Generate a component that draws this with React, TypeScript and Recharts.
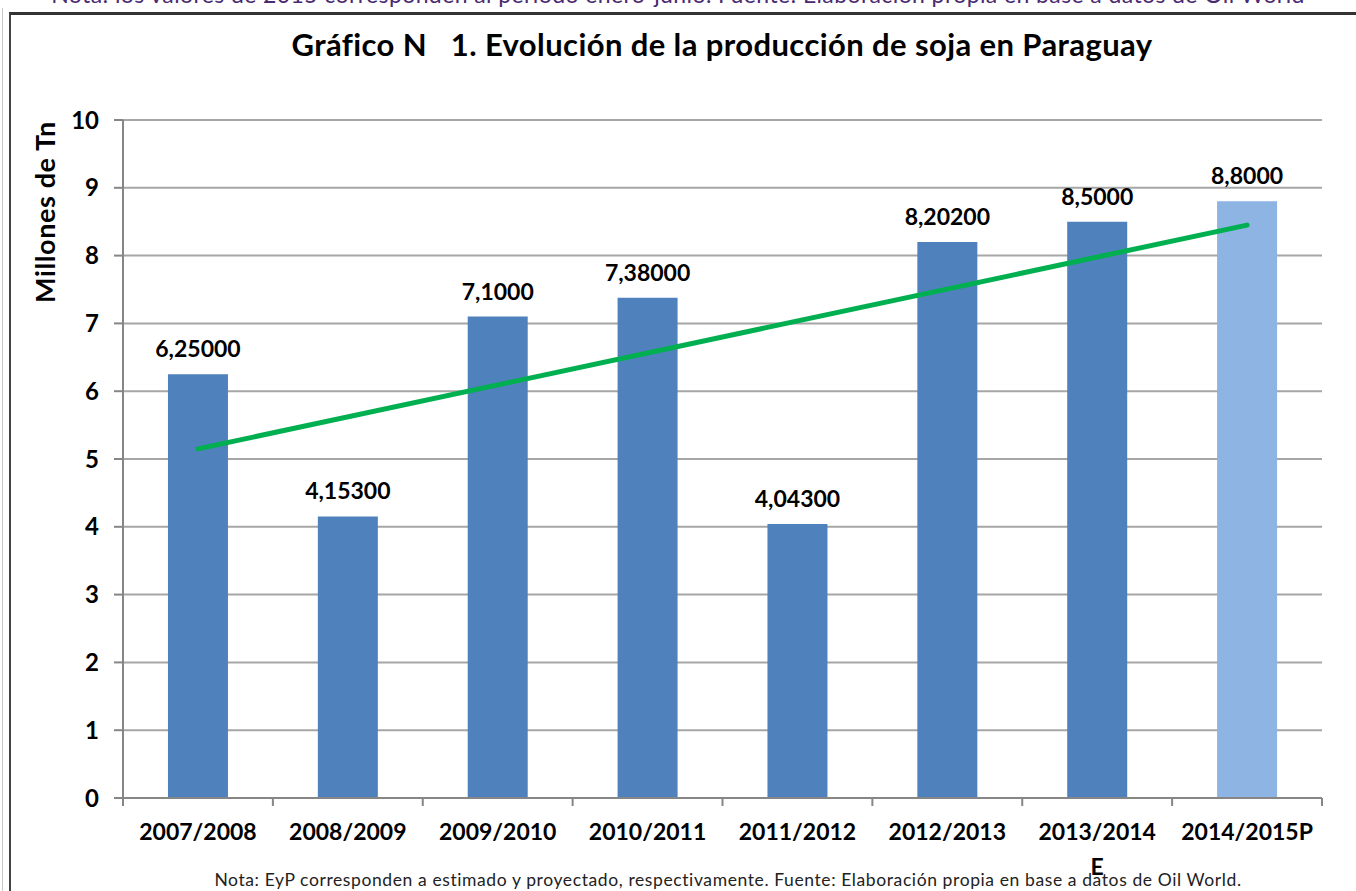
import React from 'react';
import {
  BarChart, Bar, XAxis, YAxis, CartesianGrid, Cell, LabelList, ReferenceLine,
} from 'recharts';

// campañas, producción (millones de Tn) y etiquetas tal como aparecen en el gráfico
const categories = ['2007/2008', '2008/2009', '2009/2010', '2010/2011', '2011/2012', '2012/2013', '2013/2014E', '2014/2015P'];
const production = [6.25, 4.153, 7.1, 7.38, 4.043, 8.202, 8.5, 8.8];
const valueLabels = ['6,25000', '4,15300', '7,1000', '7,38000', '4,04300', '8,20200', '8,5000', '8,8000'];
const barColors = ['#4F81BD', '#4F81BD', '#4F81BD', '#4F81BD', '#4F81BD', '#4F81BD', '#4F81BD', '#8DB4E2'];
const yTicks = [0, 1, 2, 3, 4, 5, 6, 7, 8, 9, 10];
// línea de tendencia lineal: valor al inicio y al final
const trendEnds = [5.15, 8.45];

const data = categories.map((c, i) => ({ name: c, value: production[i], label: valueLabels[i] }));

const FONT = 'Lato, "Open Sans", sans-serif';

function XTick(props: any) {
  const { x, y, payload, index } = props;
  const v: string = payload.value;
  const off = payload.offset || 75;
  const lines = v.endsWith('E') ? [v.slice(0, -1), 'E'] : [v];
  return (
    <g>
      <line x1={x - off} y1={y} x2={x - off} y2={y + 8} stroke="#868686" strokeWidth={2} />
      {index === categories.length - 1 && (
        <line x1={x + off} y1={y} x2={x + off} y2={y + 8} stroke="#868686" strokeWidth={2} />
      )}
      <text x={x} y={y + 42} textAnchor="middle" fontFamily={FONT} fontWeight={700} fontSize={23} fill="#000">
        {lines.map((l, i) => (
          <tspan key={i} x={x} dy={i === 0 ? 0 : 35}>{l}</tspan>
        ))}
      </text>
    </g>
  );
}

export default function App() {
  return (
    <div style={{ position: 'absolute', left: 0, top: 0, width: 1356, height: 891, overflow: 'hidden', background: '#fff' }}>
      <div style={{
        position: 'absolute', left: 0, top: -20, width: 1356, textAlign: 'center', fontFamily: FONT,
        fontSize: 23, letterSpacing: 0.4, color: '#4a2a70', whiteSpace: 'nowrap',
      }}>
        Nota: los valores de 2015 corresponden al período enero-junio. Fuente: Elaboración propia en base a datos de Oil World
      </div>
      <div style={{ position: 'absolute', left: 2, top: 8, width: 1, height: 900, background: '#c8c8c8' }} />
      <div style={{
        position: 'absolute', left: 9, top: 12, width: 1360, height: 900,
        borderLeft: '2px solid #444', borderTop: '3px solid #333',
      }} />
      <div style={{
        position: 'absolute', left: 10, top: 25, width: 1424, textAlign: 'center', fontFamily: FONT,
        fontWeight: 700, fontSize: 31, letterSpacing: 0.4, color: '#000', whiteSpace: 'pre',
      }}>
        {'Gráfico N   1. Evolución de la producción de soja en Paraguay'}
      </div>
      <div style={{
        position: 'absolute', left: 44, top: 212, transform: 'translate(-50%, -50%) rotate(-90deg)',
        fontFamily: FONT, fontWeight: 700, fontSize: 27, letterSpacing: 0.6, color: '#000', whiteSpace: 'nowrap',
      }}>
        Millones de Tn
      </div>
      <div style={{
        position: 'absolute', left: 0, top: 869, width: 1456, textAlign: 'center', fontFamily: FONT,
        fontSize: 17.5, letterSpacing: 0.6, color: '#222', whiteSpace: 'nowrap',
      }}>
        Nota: EyP corresponden a estimado y proyectado, respectivamente. Fuente: Elaboración propia en base a datos de Oil World.
      </div>
      <div style={{ position: 'absolute', left: 0, top: 0 }}>
        <BarChart
          width={1356}
          height={891}
          data={data}
          margin={{ top: 120, right: 34, left: 63, bottom: 33 }}
          barCategoryGap="30%"
        >
          <CartesianGrid vertical={false} stroke="#A6A6A6" strokeWidth={2} />
          <XAxis
            dataKey="name"
            height={60}
            axisLine={{ stroke: '#868686', strokeWidth: 2 }}
            tickLine={false}
            tickSize={0}
            tickMargin={0}
            interval={0}
            tick={<XTick />}
          />
          <YAxis
            width={60}
            domain={[0, 10]}
            ticks={yTicks}
            interval={0}
            axisLine={{ stroke: '#868686', strokeWidth: 2 }}
            tickLine={{ stroke: '#868686', strokeWidth: 2 }}
            tickSize={9}
            tickMargin={15}
            tick={{ fontFamily: FONT, fontWeight: 700, fontSize: 24, fill: '#000' }}
          />
          <Bar dataKey="value" isAnimationActive={false}>
            {data.map((d, i) => (
              <Cell key={d.name} fill={barColors[i]} />
            ))}
            <LabelList
              dataKey="label"
              position="top"
              offset={17}
              style={{ fontFamily: FONT, fontWeight: 700, fontSize: 23, fill: '#000' }}
            />
          </Bar>
          <ReferenceLine
            segment={[
              { x: categories[0], y: trendEnds[0] },
              { x: categories[categories.length - 1], y: trendEnds[1] },
            ]}
            stroke="#00B050"
            strokeWidth={5}
            strokeLinecap="round"
          />
        </BarChart>
      </div>
    </div>
  );
}
